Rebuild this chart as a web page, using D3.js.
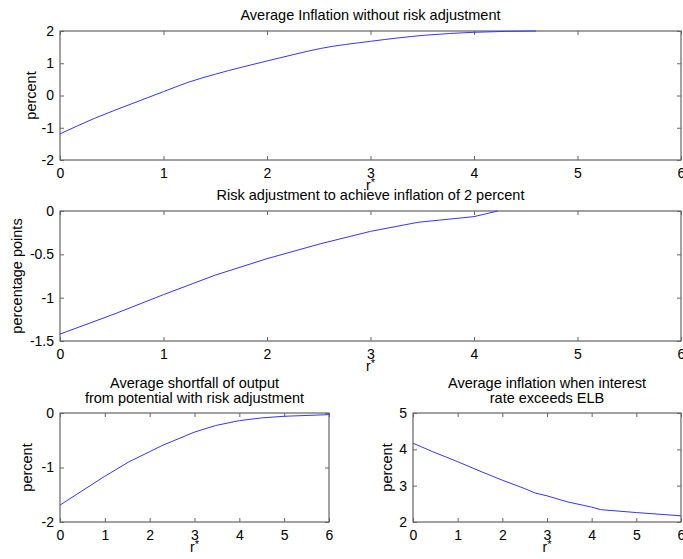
<!DOCTYPE html>
<html><head><meta charset="utf-8">
<script src="https://cdn.jsdelivr.net/npm/d3@7"></script>
<style>
body{margin:0;background:#fff;}
svg{display:block;font-family:"Liberation Sans",Arial,Helvetica,sans-serif;}
.tick text{font-size:14px;fill:#000;}
</style></head>
<body><svg id="c" width="683" height="559"></svg>
<script>
// Data
const rStar1 = [0, 0.34, 0.69, 1, 1.24, 1.5, 2, 2.27, 2.52, 3, 3.53, 4, 4.6];
const inflNoAdj = [-1.19, -0.70, -0.26, 0.12, 0.41, 0.66, 1.07, 1.28, 1.46, 1.68, 1.87, 1.96, 2.0];
const rStar2 = [0, 0.5, 1, 1.5, 2, 2.52, 3, 3.46, 4, 4.23];
const riskAdj = [-1.42, -1.20, -0.965, -0.74, -0.55, -0.377, -0.235, -0.13, -0.065, 0];
const rStar3 = [0, 0.49, 1, 1.53, 2, 2.27, 3, 3.47, 4, 4.5, 5, 6];
const shortfall = [-1.69, -1.43, -1.16, -0.90, -0.71, -0.60, -0.35, -0.23, -0.14, -0.09, -0.06, -0.03];
const rStar4 = [0, 0.43, 1, 1.5, 2, 2.5, 2.73, 3, 3.47, 4, 4.2, 5, 6];
const inflAboveELB = [4.17, 3.94, 3.66, 3.40, 3.15, 2.92, 2.80, 2.72, 2.55, 2.41, 2.34, 2.26, 2.17];

const xTicks = [0,1,2,3,4,5,6];

const svg = d3.select("#c");

function panel(o){
  const g = svg.append("g");
  const x = d3.scaleLinear().domain([0,6]).range([o.left,o.right]);
  const y = d3.scaleLinear().domain(o.yDom).range([o.bottom,o.top]);
  g.append("rect").attr("x",o.left).attr("y",o.top)
    .attr("width",o.right-o.left).attr("height",o.bottom-o.top)
    .attr("fill","none").attr("stroke","#444").attr("stroke-width",1);
  const bx = g.append("g").attr("transform",`translate(0,${o.bottom})`)
    .call(d3.axisBottom(x).tickValues(xTicks).tickSize(-4).tickPadding(8).tickFormat(d3.format("d")));
  const tx = g.append("g").attr("transform",`translate(0,${o.top})`)
    .call(d3.axisTop(x).tickValues(xTicks).tickSize(-4).tickFormat(""));
  const ly = g.append("g").attr("transform",`translate(${o.left},0)`)
    .call(d3.axisLeft(y).tickValues(o.yTicks).tickSize(-4).tickPadding(6).tickFormat(d=>String(d)));
  const ry = g.append("g").attr("transform",`translate(${o.right},0)`)
    .call(d3.axisRight(y).tickValues(o.yTicks).tickSize(-4).tickFormat(""));
  [bx,tx,ly,ry].forEach(a=>{a.select(".domain").remove();a.selectAll("line").attr("stroke","#666");});
  const line = d3.line().x((d,i)=>x(o.xs[i])).y(d=>y(d)).curve(o.curve);
  g.append("path").datum(o.ys).attr("d",line).attr("fill","none")
    .attr("stroke","#3535ff").attr("stroke-width",1);
  o.title.forEach((t,i)=>{
    g.append("text").attr("x",(o.left+o.right)/2).attr("y",o.titleY+i*15)
      .attr("text-anchor","middle").attr("font-size",14.5).text(t);
  });
  const xl = g.append("text").attr("x",(o.left+o.right)/2).attr("y",o.bottom+30)
    .attr("text-anchor","middle").attr("font-size",14);
  xl.append("tspan").text("r");
  xl.append("tspan").attr("font-size",11).attr("dy",-4).text("*");
  g.append("text").attr("transform",`translate(${o.ylabX},${(o.top+o.bottom)/2}) rotate(-90)`)
    .attr("text-anchor","middle").attr("font-size",14.5).text(o.ylab);
}

panel({left:60,right:681,top:31,bottom:160,yDom:[-2,2],yTicks:[-2,-1,0,1,2],
  xs:rStar1,ys:inflNoAdj,title:["Average Inflation without risk adjustment"],titleY:20,
  ylab:"percent",ylabX:36,curve:d3.curveMonotoneX});
panel({left:60,right:681,top:211,bottom:341,yDom:[-1.5,0],yTicks:[-1.5,-1,-0.5,0],
  xs:rStar2,ys:riskAdj,title:["Risk adjustment to achieve inflation of 2 percent"],titleY:200,
  ylab:"percentage points",ylabX:22,curve:d3.curveLinear});
panel({left:60,right:329,top:413,bottom:522,yDom:[-2,0],yTicks:[-2,-1,0],
  xs:rStar3,ys:shortfall,title:["Average shortfall of output","from potential with risk adjustment"],titleY:388,
  ylab:"percent",ylabX:32,curve:d3.curveLinear});
panel({left:413,right:681,top:413,bottom:522,yDom:[2,5],yTicks:[2,3,4,5],
  xs:rStar4,ys:inflAboveELB,title:["Average inflation when interest","rate exceeds ELB"],titleY:388,
  ylab:"percent",ylabX:392,curve:d3.curveLinear});
</script></body></html>
